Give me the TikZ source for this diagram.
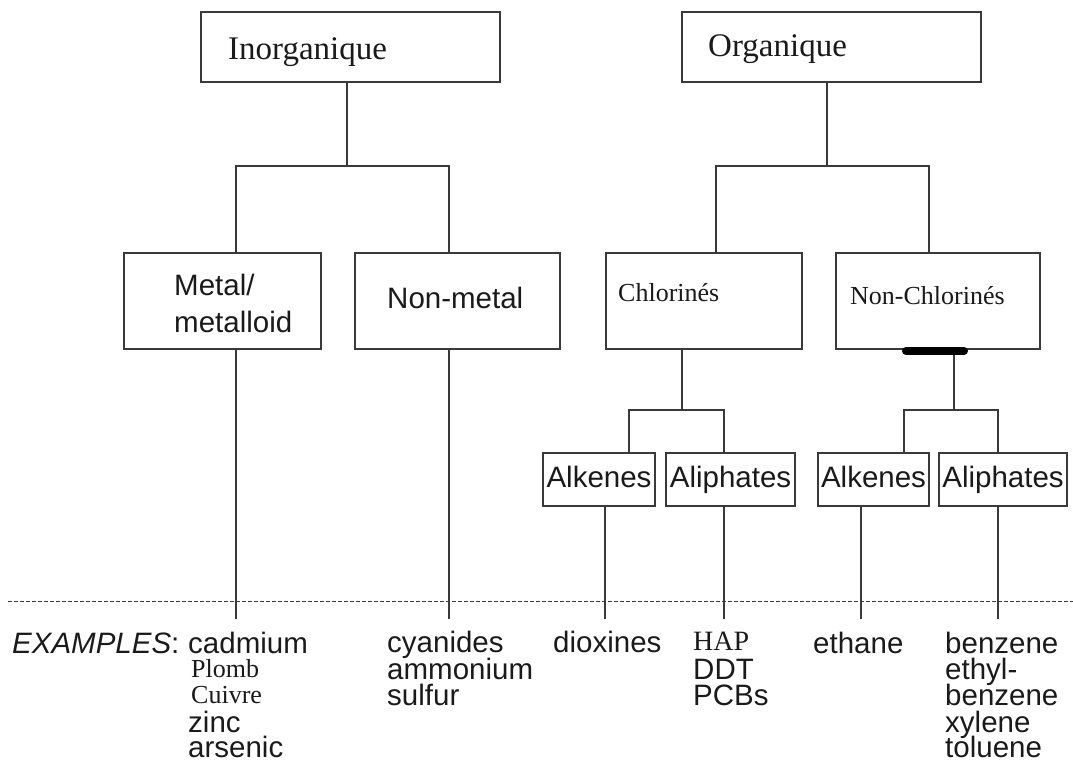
\documentclass[tikz,border=0pt]{standalone}
\usepackage{fontspec}
\setmainfont{Liberation Serif}
\setsansfont{Liberation Sans}
\definecolor{linec}{HTML}{3A3A3A}
\definecolor{txtc}{HTML}{1A1A1A}
\tikzset{
  box/.style={draw=linec, line width=1.6pt, rectangle, inner sep=0pt, fill=white},
  conn/.style={draw=linec, line width=1.5pt},
  sepline/.style={draw=linec, line width=1.4pt, dash pattern=on 4pt off 2pt},
  thickbar/.style={draw=black, line width=8pt, line cap=round},
  sftxt/.style={font=\sffamily\fontsize{29.5}{29.5}\selectfont, text=txtc, inner sep=0pt},
  sfit/.style={font=\sffamily\itshape\fontsize{29.5}{29.5}\selectfont, text=txtc, inner sep=0pt},
  rmbig/.style={font=\rmfamily\fontsize{33}{33}\selectfont, text=txtc, inner sep=0pt},
  rmmid/.style={font=\rmfamily\fontsize{26}{26}\selectfont, text=txtc, inner sep=0pt},
  rmhap/.style={font=\rmfamily\fontsize{28}{28}\selectfont, text=txtc, inner sep=0pt},
}
\begin{document}
\begin{tikzpicture}[x=1pt,y=-1pt]
\useasboundingbox (0,0) rectangle (1073,762);

% dashed separator
\coordinate (sepL) at (8,601.5);
\coordinate (sepR) at (1073,601.5);
\draw[sepline] (sepL) -- (sepR);

% top boxes
\node[box, minimum width=299pt, minimum height=70pt] (inorg) at (350.5,47) {};
\node[box, minimum width=299pt, minimum height=70pt] (org) at (831.5,47) {};
\node[rmbig, anchor=base west] (tinorg) at (228,60) {Inorganique};
\node[rmbig, anchor=base west] (torg) at (708,57) {Organique};

% middle boxes
\node[box, minimum width=197pt, minimum height=96pt] (metal) at (222.5,301) {};
\node[box, minimum width=205pt, minimum height=96pt] (nonmetal) at (457.5,301) {};
\node[box, minimum width=196pt, minimum height=96pt] (chlor) at (704,301) {};
\node[box, minimum width=204pt, minimum height=96pt] (nonchlor) at (938,301) {};
\node[sftxt, anchor=base west] (tmetal1) at (174,295) {Metal/};
\node[sftxt, anchor=base west] (tmetal2) at (174,332) {metalloid};
\node[sftxt, anchor=base west] (tnonmetal) at (387,308) {Non-metal};
\node[rmmid, anchor=base west] (tchlor) at (618,301) {Chlorinés};
\node[rmmid, anchor=base west] (tnonchlor) at (850,304) {Non-Chlorinés};

% small boxes
\node[box, minimum width=112pt, minimum height=53pt] (alk1) at (599,479.5) {};
\node[box, minimum width=129pt, minimum height=53pt] (ali1) at (730.5,479.5) {};
\node[box, minimum width=111pt, minimum height=53pt] (alk2) at (873.5,479.5) {};
\node[box, minimum width=128pt, minimum height=53pt] (ali2) at (1003,479.5) {};
\node[sftxt, anchor=base] (talk1) at (599,487) {Alkenes};
\node[sftxt, anchor=base] (tali1) at (730.5,487) {Aliphates};
\node[sftxt, anchor=base] (talk2) at (873.5,487) {Alkenes};
\node[sftxt, anchor=base] (tali2) at (1003,487) {Aliphates};

% tree connectors: inorganique
\coordinate (ja) at (236,166);
\coordinate (jb) at (449,166);
\coordinate (jc) at (347,166);
\draw[conn] (inorg.south -| jc) -- (jc);
\draw[conn] (metal.north -| ja) -- (ja) -- (jb) -- (nonmetal.north -| jb);

% organique
\coordinate (jd) at (716,166);
\coordinate (je) at (929,166);
\coordinate (jf) at (827,166);
\draw[conn] (org.south -| jf) -- (jf);
\draw[conn] (chlor.north -| jd) -- (jd) -- (je) -- (nonchlor.north -| je);

% chlorines
\coordinate (jg) at (629,410);
\coordinate (jh) at (724,410);
\coordinate (ji) at (682,410);
\draw[conn] (chlor.south -| ji) -- (ji);
\draw[conn] (alk1.north -| jg) -- (jg) -- (jh) -- (ali1.north -| jh);

% non-chlorines
\coordinate (jj) at (904,410);
\coordinate (jk) at (998,410);
\coordinate (jl) at (954,410);
\draw[conn] (nonchlor.south -| jl) -- (jl);
\draw[conn] (alk2.north -| jj) -- (jj) -- (jk) -- (ali2.north -| jk);
\coordinate (bar1) at (906,351);
\coordinate (bar2) at (964,351);
\draw[thickbar] (bar1) -- (bar2);

% drops to examples
\coordinate (d1) at (236,619);
\coordinate (d2) at (449,619);
\coordinate (d3) at (605,619);
\coordinate (d4) at (724,619);
\coordinate (d5) at (861,619);
\coordinate (d6) at (998,619);
\draw[conn] (metal.south -| d1) -- (d1);
\draw[conn] (nonmetal.south -| d2) -- (d2);
\draw[conn] (alk1.south -| d3) -- (d3);
\draw[conn] (ali1.south -| d4) -- (d4);
\draw[conn] (alk2.south -| d5) -- (d5);
\draw[conn] (ali2.south -| d6) -- (d6);

% examples
\node[sfit, anchor=base west] (ex0) at (12,653) {EXAMPLES\upshape:};
\node[sftxt, anchor=base west] (ex1) at (188,653) {cadmium};
\node[rmmid, anchor=base west] (ex2) at (191,677) {Plomb};
\node[rmmid, anchor=base west] (ex3) at (191,703) {Cuivre};
\node[sftxt, anchor=base west] (ex4) at (188,732) {zinc};
\node[sftxt, anchor=base west] (ex5) at (188,757) {arsenic};

\node[sftxt, anchor=base west] (ex6) at (387,652) {cyanides};
\node[sftxt, anchor=base west] (ex7) at (387,679) {ammonium};
\node[sftxt, anchor=base west] (ex8) at (387,705) {sulfur};

\node[sftxt, anchor=base west] (ex9) at (553,652) {dioxines};

\node[rmhap, anchor=base west] (ex10) at (693,650) {HAP};
\node[sftxt, anchor=base west] (ex11) at (693,679) {DDT};
\node[sftxt, anchor=base west] (ex12) at (693,705) {PCBs};

\node[sftxt, anchor=base west] (ex13) at (813,653) {ethane};

\node[sftxt, anchor=base west] (ex14) at (945,653) {benzene};
\node[sftxt, anchor=base west] (ex15) at (945,679) {ethyl-};
\node[sftxt, anchor=base west] (ex16) at (945,705) {benzene};
\node[sftxt, anchor=base west] (ex17) at (945,732) {xylene};
\node[sftxt, anchor=base west] (ex18) at (945,757) {toluene};
\end{tikzpicture}
\end{document}
